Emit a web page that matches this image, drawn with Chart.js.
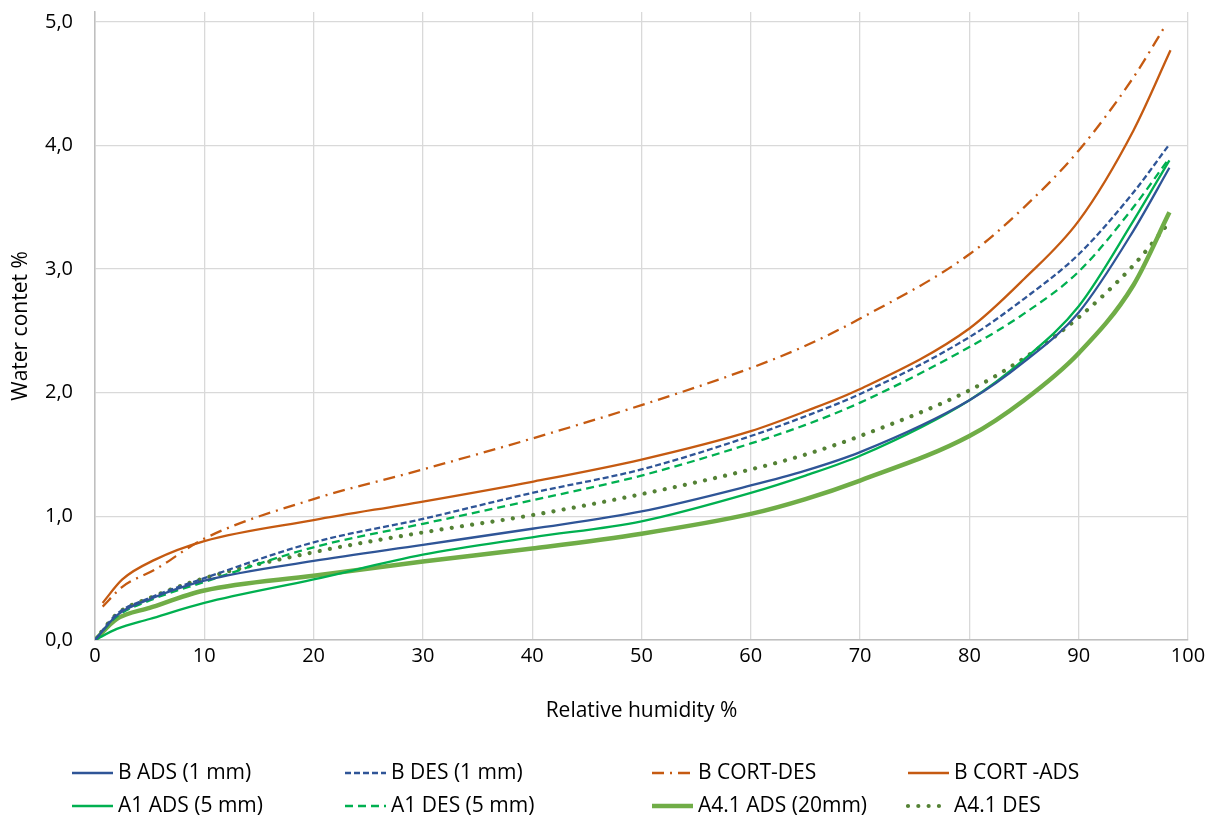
<!DOCTYPE html>
<html>
<head>
<meta charset="utf-8">
<script src="https://cdn.jsdelivr.net/npm/chart.js@4.4.1/dist/chart.umd.min.js"></script>
<style>
html,body{margin:0;padding:0;background:#fff;}
#wrap{width:1221px;height:821px;}
</style>
</head>
<body>
<div id="wrap"><canvas id="c" width="1221" height="821"></canvas></div>
<script>
// Relative humidity (x) values
const rh = [0, 2, 5, 10, 20, 30, 40, 50, 60, 65, 70, 80, 85, 90, 95, 98.3];
const rhCort = [0.7, 2.5, 5.5, 10, 20, 30, 40, 50, 60, 65, 70, 80, 85, 90, 95, 98.4];
const rhCortDes = [0.7, 2.5, 5.5, 10, 20, 30, 40, 50, 60, 65, 70, 80, 85, 90, 95, 98.0];

// Water content (%) series
const bAds    = [0, 0.20, 0.33, 0.48, 0.64, 0.77, 0.90, 1.04, 1.25, 1.37, 1.52, 1.94, 2.25, 2.65, 3.31, 3.82];
const bDes    = [0, 0.21, 0.34, 0.50, 0.79, 0.98, 1.19, 1.38, 1.65, 1.81, 1.99, 2.45, 2.76, 3.12, 3.62, 4.01];
const bCortDes = [0.27, 0.43, 0.57, 0.82, 1.14, 1.38, 1.63, 1.90, 2.20, 2.38, 2.60, 3.12, 3.50, 3.96, 4.55, 4.98];
const bCortAds = [0.30, 0.49, 0.65, 0.80, 0.97, 1.12, 1.28, 1.46, 1.69, 1.85, 2.03, 2.52, 2.92, 3.39, 4.12, 4.77];
const a1Ads   = [0, 0.09, 0.17, 0.30, 0.49, 0.69, 0.83, 0.96, 1.19, 1.33, 1.49, 1.94, 2.27, 2.70, 3.39, 3.88];
const a1Des   = [0, 0.19, 0.32, 0.47, 0.75, 0.94, 1.13, 1.33, 1.59, 1.74, 1.92, 2.37, 2.64, 2.98, 3.50, 3.90];
const a41Ads  = [0, 0.17, 0.26, 0.40, 0.52, 0.635, 0.74, 0.86, 1.02, 1.14, 1.29, 1.65, 1.94, 2.32, 2.87, 3.46];
const a41Des  = [0, 0.21, 0.34, 0.50, 0.71, 0.87, 1.01, 1.18, 1.38, 1.50, 1.65, 2.02, 2.28, 2.61, 3.03, 3.38];

const seriesNames = ['B ADS (1 mm)', 'B DES (1 mm)', 'B CORT-DES', 'B CORT -ADS',
                     'A1 ADS (5 mm)', 'A1 DES (5 mm)', 'A4.1 ADS (20mm)', 'A4.1 DES'];
const xTicks = [0,10,20,30,40,50,60,70,80,90,100];
const yTicks = [0,1,2,3,4,5];

const FONT = "'Open Sans', Lato, sans-serif";

function pts(xs, ys){ return ys.map((v,i)=>({x:xs[i], y:v})); }

const specs = [
  {name: seriesNames[0], xs: rh, ys: bAds, color:'#2F5597', w:2.3, dash:[]},
  {name: seriesNames[1], xs: rh, ys: bDes, color:'#2F5597', w:2.3, dash:[6,3]},
  {name: seriesNames[2], xs: rhCortDes, ys: bCortDes, color:'#C55A11', w:2.3, dash:[12,6,2,6]},
  {name: seriesNames[3], xs: rhCort, ys: bCortAds, color:'#C55A11', w:2.3, dash:[]},
  {name: seriesNames[4], xs: rh, ys: a1Ads, color:'#00B050', w:2.3, dash:[]},
  {name: seriesNames[5], xs: rh, ys: a1Des, color:'#00B050', w:2.3, dash:[8,5]},
  {name: seriesNames[6], xs: rh, ys: a41Ads, color:'#70AD47', w:4.5, dash:[]},
  {name: seriesNames[7], xs: rh, ys: a41Des, color:'#548235', w:4.2, dash:[0.01,10.3], cap:'round'},
];

const datasets = specs.map(s => ({
  label: s.name,
  data: pts(s.xs, s.ys),
  borderColor: s.color,
  backgroundColor: s.color,
  borderWidth: s.w,
  borderDash: s.dash,
  borderCapStyle: s.cap || 'butt',
  pointRadius: 0,
  pointHoverRadius: 0,
  fill: false,
  cubicInterpolationMode: 'monotone',
  showLine: true
}));

// legend grid drawn on canvas from the datasets' own styles
const legendGrid = {
  id: 'legendGrid',
  afterDraw(chart){
    const ctx = chart.ctx;
    const cols = [72, 345, 652, 908];
    const rows = [773, 806];
    ctx.save();
    chart.data.datasets.forEach((ds, i) => {
      const c = i % 4, r = Math.floor(i / 4);
      const x = cols[c], y = rows[r];
      ctx.strokeStyle = ds.borderColor;
      ctx.lineWidth = ds.borderWidth;
      ctx.setLineDash(ds.borderDash || []);
      ctx.lineCap = ds.borderCapStyle || 'butt';
      ctx.beginPath();
      ctx.moveTo(x, y);
      ctx.lineTo(x + 41, y);
      ctx.stroke();
      ctx.setLineDash([]);
      ctx.fillStyle = '#000';
      ctx.font = '21px ' + FONT;
      ctx.textBaseline = 'middle';
      ctx.textAlign = 'left';
      ctx.fillText(ds.label, x + 46, y);
    });
    ctx.restore();
  }
};

new Chart(document.getElementById('c'), {
  type: 'scatter',
  data: { datasets },
  plugins: [legendGrid],
  options: {
    responsive: false,
    animation: false,
    layout: { padding: { left: 8, right: 33, top: 12, bottom: 97 } },
    plugins: { legend: { display: false }, tooltip: { enabled: false } },
    scales: {
      x: {
        type: 'linear', min: 0, max: 100,
        afterBuildTicks: s => { s.ticks = xTicks.map(v => ({value: v})); },
        afterFit: s => { s.height = 84; s.paddingLeft = 0; s.paddingRight = 0; },
        grid: { color: '#D9D9D9', lineWidth: 1.3, drawTicks: false },
        border: { color: '#BFBFBF', width: 1.5 },
        ticks: { color: '#000', font: { family: FONT, size: 20 }, padding: 4 },
        title: { display: true, text: 'Relative humidity %', color: '#000',
                 font: { family: FONT, size: 21 }, padding: { top: 10, bottom: 0 } }
      },
      y: {
        type: 'linear', min: 0, max: 5.08,
        afterBuildTicks: s => { s.ticks = yTicks.map(v => ({value: v})); },
        afterFit: s => { s.width = 87; s.paddingTop = 0; s.paddingBottom = 0; },
        grid: { color: '#D9D9D9', lineWidth: 1.3, drawTicks: false },
        border: { color: '#BFBFBF', width: 1.5 },
        ticks: { color: '#000', font: { family: FONT, size: 20 }, padding: 22,
                 callback: v => v.toFixed(1).replace('.', ',') },
        title: { display: true, text: 'Water contet %', color: '#000',
                 font: { family: FONT, size: 21 }, padding: { top: 0, bottom: 0 } }
      }
    }
  }
});
</script>
</body>
</html>
